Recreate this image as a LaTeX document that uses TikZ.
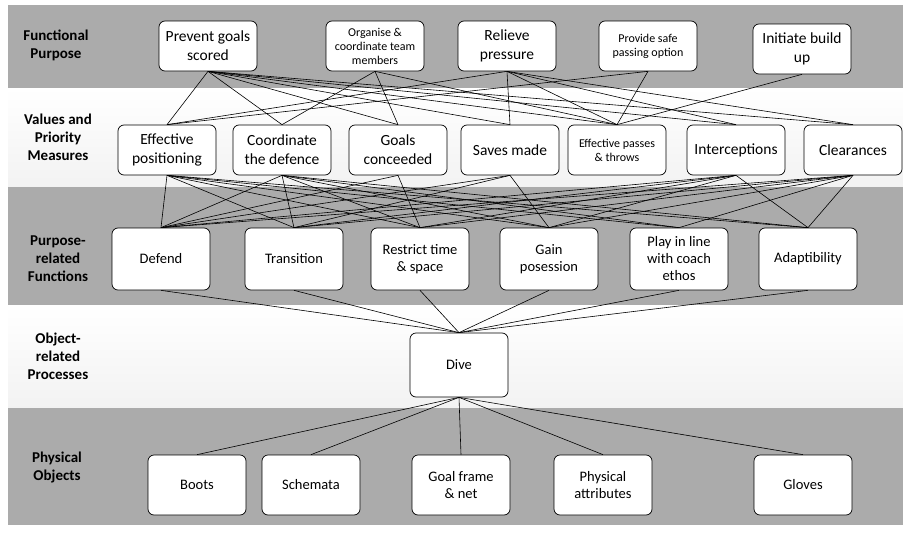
\documentclass[tikz,border=0pt]{standalone}
\usepackage{fontspec}
\setmainfont{Carlito}
\definecolor{bandgray}{HTML}{ABABAB}
\tikzset{>=stealth,
    box/.style={draw, rounded corners=6pt, fill=white, align=center, minimum width=98pt, minimum height=50pt, inner sep=2pt, line width=0.7pt, font=\fontsize{15.5}{19}\selectfont},
    tallbox/.style={box, minimum height=62pt, font=\fontsize{14.5}{17}\selectfont},
    smalltext/.style={font=\fontsize{12}{14}\selectfont},
    level/.style={align=center, font=\bfseries\fontsize{15}{18}\selectfont},
    link/.style={line width=0.6pt},
    darkband/.style={fill=bandgray},
    lightband/.style={top color=white, bottom color=gray!10}
}

\begin{document}
\begin{tikzpicture}[x=1pt,y=-1pt]
    \useasboundingbox (0,0) rectangle (903,533);
    \fill[darkband] (8,5) rectangle (903,88);
    \shade[lightband] (8,88) rectangle (903,187);
    \fill[darkband] (8,187) rectangle (903,305);
    \shade[lightband] (8,305) rectangle (903,408);
    \fill[darkband] (8,408) rectangle (903,525);

    \node[level] (lfp) at (56,45) {Functional\\Purpose};
    \node[level] (lvp) at (58,137) {Values and\\Priority\\Measures};
    \node[level] (lpf) at (58,259) {Purpose-\\related\\Functions};
    \node[level] (lop) at (58,356) {Object-\\related\\Processes};
    \node[level] (lpo) at (57,467) {Physical\\Objects};

    \node[box] (prevent) at (208,46) {Prevent goals\\scored};
    \node[box, smalltext] (organise) at (375,46) {Organise \&\\coordinate team\\members};
    \node[box] (relieve) at (507,46) {Relieve\\pressure};
    \node[box, smalltext] (provide) at (648,46) {Provide safe\\passing option};
    \node[box] (initiate) at (802,49) {Initiate build\\up};

    \node[box] (effpos) at (167,150) {Effective\\positioning};
    \node[box] (coord) at (282,150) {Coordinate\\the defence};
    \node[box] (goals) at (398,150) {Goals\\conceeded};
    \node[box] (saves) at (510,150) {Saves made};
    \node[box, smalltext] (passes) at (617,150) {Effective passes\\\& throws};
    \node[box] (intercept) at (736,150) {Interceptions};
    \node[box] (clear) at (853,150) {Clearances};

    \node[tallbox] (defend) at (161,259) {Defend};
    \node[tallbox] (transition) at (294,259) {Transition};
    \node[tallbox] (restrict) at (420,259) {Restrict time\\\& space};
    \node[tallbox] (gain) at (549,259) {Gain\\posession};
    \node[tallbox] (play) at (679,259) {Play in line\\with coach\\ethos};
    \node[tallbox] (adapt) at (808,259) {Adaptibility};

    \node[tallbox, minimum height=64pt] (dive) at (459,365) {Dive};

    \node[tallbox, minimum height=60pt] (boots) at (197,485) {Boots};
    \node[tallbox, minimum height=60pt] (schemata) at (311,485) {Schemata};
    \node[tallbox, minimum height=60pt] (frame) at (461,485) {Goal frame\\\& net};
    \node[tallbox, minimum height=60pt] (physical) at (603,485) {Physical\\attributes};
    \node[tallbox, minimum height=60pt] (gloves) at (803,485) {Gloves};

    \foreach \a/\b in {prevent/effpos, prevent/coord, prevent/goals, prevent/saves, prevent/passes, prevent/intercept, prevent/clear,
        organise/coord, organise/goals, organise/passes,
        relieve/effpos, relieve/saves, relieve/passes, relieve/intercept, relieve/clear,
        provide/effpos, provide/passes, initiate/passes}
        \draw[link] (\a.south) -- (\b.north);
    \foreach \a/\b in {effpos/defend, effpos/transition, effpos/restrict, effpos/gain, effpos/play, effpos/adapt,
        coord/defend, coord/transition, coord/restrict, coord/gain, coord/play, coord/adapt,
        goals/defend, goals/restrict, saves/defend, saves/transition, saves/gain,
        intercept/defend, intercept/transition, intercept/restrict, intercept/gain, intercept/adapt,
        clear/defend, clear/transition, clear/restrict, clear/gain, clear/play, clear/adapt}
        \draw[link] (\a.south) -- (\b.north);
    \foreach \a in {defend, transition, restrict, gain, play, adapt}
        \draw[link] (\a.south) -- (dive.north);
    \foreach \b in {boots, schemata, frame, physical, gloves}
        \draw[link] (dive.south) -- (\b.north);
\end{tikzpicture}
\end{document}
